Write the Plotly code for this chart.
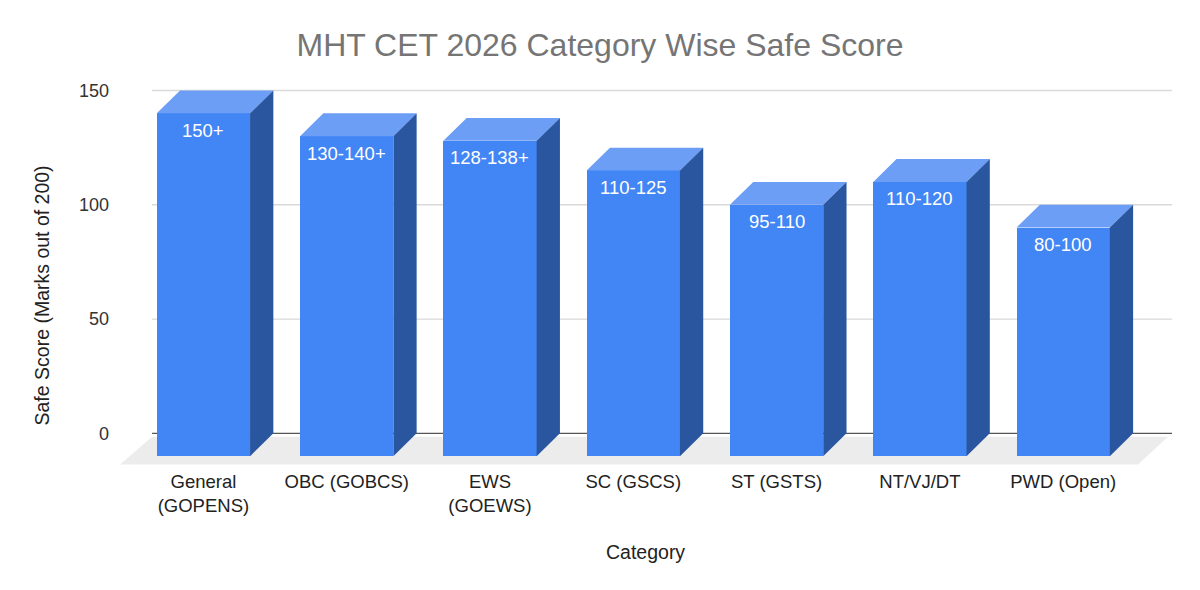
import plotly.graph_objects as go

# ---- data ----
categories = ["General<br>(GOPENS)", "OBC (GOBCS)", "EWS<br>(GOEWS)", "SC (GSCS)",
              "ST (GSTS)", "NT/VJ/DT", "PWD (Open)"]
safe_scores = [150, 140, 138, 125, 110, 120, 100]
score_labels = ["150+", "130-140+", "128-138+", "110-125", "95-110", "110-120", "80-100"]
y_ticks = [0, 50, 100, 150]

# ---- 3D look parameters (in axis units) ----
DX = 0.1626      # horizontal depth offset (category units)
DY = 10.0        # vertical depth offset (value units)
W = 0.651        # bar width
FRONT = "#4285F4"
TOP = "#6C9EF6"
SIDE = "#2A56A0"
FONT = "Liberation Sans, Arial, sans-serif"

n = len(categories)
xs = list(range(n))
front_x = [i - DX for i in xs]

fig = go.Figure()

# front faces
fig.add_trace(go.Bar(
    x=front_x, y=safe_scores, base=[-DY] * n, width=W,
    marker=dict(color=FRONT, line=dict(width=0)),
    hoverinfo="skip", showlegend=False))

# top faces
tx, ty = [], []
for i, v in zip(xs, safe_scores):
    fl, fr = i - DX - W / 2, i - DX + W / 2
    bl, br = i - W / 2, i + W / 2
    tx += [fl, fr, br, bl, fl, None]
    ty += [v - DY, v - DY, v, v, v - DY, None]
fig.add_trace(go.Scatter(x=tx, y=ty, fill="toself", fillcolor=TOP, mode="lines",
                         line=dict(width=0, color=TOP), hoverinfo="skip", showlegend=False))

# side faces
sx, sy = [], []
for i, v in zip(xs, safe_scores):
    fr = i - DX + W / 2
    br = i + W / 2
    sx += [fr, br, br, fr, fr, None]
    sy += [v - DY, v, 0, -DY, v - DY, None]
fig.add_trace(go.Scatter(x=sx, y=sy, fill="toself", fillcolor=SIDE, mode="lines",
                         line=dict(width=0, color=SIDE), hoverinfo="skip", showlegend=False))

# floor + gridlines as shapes below traces
GL, GR = -0.521, 6.597
shapes = [dict(type="path", xref="x", yref="y", layer="below",
               path=f"M {GL},-1.5 L 6.569,-1.5 L 6.360,-13.66 L -0.744,-13.66 Z",
               fillcolor="#ECECEC", line=dict(width=0))]
for t in y_ticks:
    shapes.append(dict(type="line", xref="x", yref="y", layer="below",
                       x0=GL, x1=GR, y0=t, y1=t,
                       line=dict(color="#555555" if t == 0 else "#D9D9D9", width=1.3)))

# data labels
annotations = []
for i, v, lab in zip(front_x, safe_scores, score_labels):
    annotations.append(dict(x=i, y=v - DY, xref="x", yref="y", text=lab, showarrow=False,
                            yshift=-17, yanchor="middle",
                            font=dict(family=FONT, size=18.5, color="white")))
# axis titles
annotations.append(dict(x=(41 - 118) / 1056, y=(468 - 295.5) / 388, xref="paper", yref="paper",
                        text="Safe Score (Marks out of 200)", textangle=-90, showarrow=False,
                        xanchor="center", yanchor="middle",
                        font=dict(family=FONT, size=19.5, color="#222222")))
annotations.append(dict(x=(645 - 118) / 1056, y=(468 - 552) / 388, xref="paper", yref="paper",
                        text="Category", showarrow=False, xanchor="center", yanchor="middle",
                        font=dict(family=FONT, size=19.5, color="#222222")))

fig.update_layout(
    width=1200, height=590,
    margin=dict(l=118, r=26, t=80, b=122),
    paper_bgcolor="white", plot_bgcolor="white",
    title=dict(text="MHT CET 2026 Category Wise Safe Score", x=0.5, xanchor="center",
               y=1 - 45 / 590, yanchor="middle",
               font=dict(family=FONT, size=32, color="#757575")),
    shapes=shapes, annotations=annotations, bargap=0,
    xaxis=dict(range=[-0.7586, 6.6108], tickmode="array", tickvals=front_x, ticktext=categories,
               showgrid=False, zeroline=False, showline=False, ticks="",
               tickfont=dict(family=FONT, size=18.5, color="#222222"), fixedrange=True),
    yaxis=dict(range=[-15.19, 154.6], tickmode="array", tickvals=y_ticks,
               showgrid=False, zeroline=False, showline=False, ticks="",
               ticklabelstandoff=8,
               tickfont=dict(family=FONT, size=18, color="#333333"), fixedrange=True),
)

fig.write_html("out.html")
